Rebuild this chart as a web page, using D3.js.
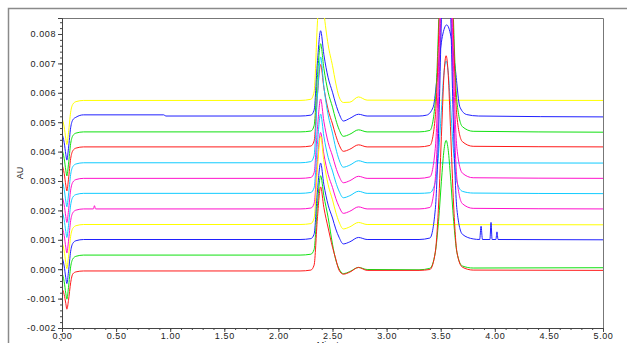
<!DOCTYPE html>
<html>
<head>
<meta charset="utf-8">
<script src="https://cdn.jsdelivr.net/npm/d3@7"></script>
<style>
  body { margin: 0; background: #fff; }
  text { font-family: "Liberation Sans", Arial, sans-serif; }
</style>
</head>
<body>
<svg width="627" height="343"></svg>
<script>
// tick labels
var xTicks = [0, 0.5, 1, 1.5, 2, 2.5, 3, 3.5, 4, 4.5, 5];
var yTicks = [-0.002, -0.001, 0, 0.001, 0.002, 0.003, 0.004, 0.005, 0.006, 0.007, 0.008];

// traces, [minutes, AU] (top trace first)
var yellow1 = [[0,0.00514],[0.02,0.00484],[0.035,0.00444],[0.045,0.00424],[0.06,0.00464],[0.08,0.00534],[0.10,0.00561],[0.13,0.00570],[0.20,0.00574],
  [2.20,0.00574],[2.30,0.00578],[2.33,0.00603],[2.36,0.00834],[2.39,0.00994],[2.42,0.00876],[2.46,0.00763],[2.50,0.00692],[2.53,0.00633],[2.56,0.00587],
  [2.60,0.00567],[2.66,0.00568],[2.74,0.00586],[2.82,0.00575],[5.00,0.00574]];
var blue1 = [[0,0.00461],[0.02,0.00431],[0.035,0.00391],[0.045,0.00371],[0.06,0.00411],[0.08,0.00481],[0.10,0.00508],[0.13,0.00517],[0.20,0.00525],
  [0.94,0.00525],[0.96,0.00521],[2.20,0.00521],[2.30,0.00524],[2.33,0.00541],[2.36,0.00701],[2.39,0.00811],[2.42,0.00730],[2.46,0.00651],[2.50,0.00602],
  [2.53,0.00562],[2.56,0.00530],[2.60,0.00504],[2.66,0.00513],[2.74,0.00527],[2.82,0.00521],
  [3.30,0.00521],[3.37,0.00524],[3.43,0.00551],[3.478,0.00691],[3.515,0.00791],[3.555,0.00831],[3.595,0.00791],[3.632,0.00691],[3.678,0.00551],
  [3.74,0.00526],[3.85,0.00521],[5.00,0.00518]];
var green1 = [[0,0.00407],[0.02,0.00377],[0.035,0.00337],[0.045,0.00317],[0.06,0.00357],[0.08,0.00427],[0.10,0.00454],[0.13,0.00463],[0.20,0.00467],
  [2.20,0.00467],[2.30,0.00470],[2.33,0.00488],[2.36,0.00653],[2.39,0.00767],[2.42,0.00683],[2.46,0.00602],[2.50,0.00551],[2.53,0.00509],[2.56,0.00476],
  [2.60,0.00452],[2.66,0.00459],[2.74,0.00474],[2.82,0.00467],
  [3.30,0.00467],[3.40,0.00472],[3.45,0.00569],[3.48,0.00827],[3.51,0.01271],[3.53,0.01559],[3.55,0.01667],[3.57,0.01559],[3.59,0.01271],[3.62,0.00827],
  [3.65,0.00569],[3.70,0.00485],[3.80,0.00469],[5.00,0.00466]];
var red1 = [[0,0.00356],[0.02,0.00326],[0.035,0.00286],[0.045,0.00266],[0.06,0.00306],[0.08,0.00376],[0.10,0.00403],[0.13,0.00412],[0.20,0.00416],
  [2.20,0.00416],[2.30,0.00419],[2.33,0.00436],[2.36,0.00590],[2.39,0.00696],[2.42,0.00618],[2.46,0.00542],[2.50,0.00494],[2.53,0.00455],[2.56,0.00424],
  [2.60,0.00401],[2.66,0.00408],[2.74,0.00423],[2.82,0.00416],
  [3.30,0.00416],[3.40,0.00421],[3.45,0.00518],[3.48,0.00776],[3.51,0.01220],[3.53,0.01508],[3.55,0.01616],[3.57,0.01508],[3.59,0.01220],[3.62,0.00776],
  [3.65,0.00518],[3.70,0.00434],[3.80,0.00418],[5.00,0.00416]];
var cyan1 = [[0,0.00302],[0.02,0.00272],[0.035,0.00232],[0.045,0.00212],[0.06,0.00252],[0.08,0.00322],[0.10,0.00349],[0.13,0.00358],[0.20,0.00362],
  [2.20,0.00362],[2.30,0.00366],[2.33,0.00387],[2.36,0.00585],[2.39,0.00722],[2.42,0.00621],[2.46,0.00524],[2.50,0.00463],[2.53,0.00412],[2.56,0.00373],
  [2.60,0.00347],[2.66,0.00354],[2.74,0.00369],[2.82,0.00362],[5.00,0.00361]];
var magenta1 = [[0,0.00249],[0.02,0.00219],[0.035,0.00179],[0.045,0.00159],[0.06,0.00199],[0.08,0.00269],[0.10,0.00296],[0.13,0.00305],[0.20,0.00309],
  [2.20,0.00309],[2.30,0.00312],[2.33,0.00328],[2.36,0.00476],[2.39,0.00579],[2.42,0.00503],[2.46,0.00431],[2.50,0.00385],[2.53,0.00347],[2.56,0.00317],
  [2.60,0.00294],[2.66,0.00301],[2.74,0.00316],[2.82,0.00309],
  [3.30,0.00309],[3.40,0.00314],[3.45,0.00411],[3.48,0.00669],[3.51,0.01113],[3.53,0.01401],[3.55,0.01509],[3.57,0.01401],[3.59,0.01113],[3.62,0.00669],
  [3.65,0.00411],[3.70,0.00327],[3.80,0.00311],[5.00,0.00309]];
var cyan2 = [[0,0.00198],[0.02,0.00168],[0.035,0.00128],[0.045,0.00108],[0.06,0.00148],[0.08,0.00218],[0.10,0.00245],[0.13,0.00254],[0.20,0.00258],
  [2.20,0.00258],[2.30,0.00261],[2.33,0.00277],[2.36,0.00425],[2.39,0.00528],[2.42,0.00452],[2.46,0.00380],[2.50,0.00334],[2.53,0.00296],[2.56,0.00266],
  [2.60,0.00243],[2.66,0.00250],[2.74,0.00265],[2.82,0.00258],
  [3.30,0.00258],[3.40,0.00260],[3.45,0.00296],[3.48,0.00393],[3.51,0.00560],[3.53,0.00668],[3.55,0.00708],[3.57,0.00668],[3.59,0.00560],[3.62,0.00393],
  [3.65,0.00296],[3.70,0.00265],[3.80,0.00259],[5.00,0.00257]];
var magenta2 = [[0,0.00145],[0.02,0.00115],[0.035,0.00075],[0.045,0.00055],[0.06,0.00095],[0.08,0.00165],[0.10,0.00192],[0.13,0.00201],[0.20,0.00205],
  [0.29,0.00205],[0.30,0.00216],[0.31,0.00205],
  [2.20,0.00205],[2.30,0.00208],[2.33,0.00223],[2.36,0.00366],[2.39,0.00465],[2.42,0.00392],[2.46,0.00322],[2.50,0.00278],[2.53,0.00241],[2.56,0.00213],
  [2.60,0.00190],[2.66,0.00197],[2.74,0.00212],[2.82,0.00205],
  [3.30,0.00205],[3.40,0.00210],[3.45,0.00307],[3.48,0.00565],[3.51,0.01009],[3.53,0.01297],[3.55,0.01405],[3.57,0.01297],[3.59,0.01009],[3.62,0.00565],
  [3.65,0.00307],[3.70,0.00223],[3.80,0.00207],[5.00,0.00205]];
var yellow2 = [[0,0.00092],[0.02,0.00062],[0.035,0.00022],[0.045,0.00002],[0.06,0.00042],[0.08,0.00112],[0.10,0.00139],[0.13,0.00148],[0.20,0.00152],
  [2.20,0.00152],[2.30,0.00155],[2.33,0.00173],[2.36,0.00338],[2.39,0.00452],[2.42,0.00368],[2.46,0.00287],[2.50,0.00236],[2.53,0.00194],[2.56,0.00161],
  [2.60,0.00137],[2.66,0.00144],[2.74,0.00159],[2.82,0.00152],[5.00,0.00151]];
var blue2 = [[0,0.00041],[0.02,0.00011],[0.035,-0.00029],[0.045,-0.00049],[0.06,-0.00009],[0.08,0.00061],[0.10,0.00088],[0.13,0.00097],[0.20,0.00101],
  [2.20,0.00101],[2.30,0.00104],[2.33,0.00119],[2.36,0.00262],[2.39,0.00361],[2.42,0.00288],[2.46,0.00218],[2.50,0.00174],[2.53,0.00137],[2.56,0.00109],
  [2.60,0.00086],[2.66,0.00093],[2.74,0.00108],[2.82,0.00101],
  [3.30,0.00101],[3.40,0.00106],[3.45,0.00203],[3.48,0.00461],[3.51,0.00905],[3.53,0.01193],[3.55,0.01301],[3.57,0.01193],[3.59,0.00905],[3.62,0.00461],
  [3.65,0.00203],[3.70,0.00119],[3.80,0.00103],
  [3.86,0.00101],[3.873,0.00146],[3.886,0.00101],[3.955,0.00101],[3.965,0.00159],[3.975,0.00101],[4.01,0.00101],[4.02,0.00127],[4.03,0.00101],[5.00,0.00100]];
var green2 = [[0,-0.00012],[0.02,-0.00042],[0.035,-0.00082],[0.045,-0.00102],[0.06,-0.00062],[0.08,0.00008],[0.10,0.00035],[0.13,0.00044],[0.20,0.00048],
  [2.20,0.00048],[2.30,0.00051],[2.33,0.00067],[2.36,0.00215],[2.39,0.00318],[2.42,0.00250],[2.46,0.00175],[2.50,0.00085],[2.53,0.00032],[2.56,0.00002],
  [2.60,-0.00015],[2.66,-0.00008],[2.74,0.00006],[2.82,-0.00001],
  [3.30,-0.00002],[3.40,0.00003],[3.45,0.00057],[3.48,0.00163],[3.51,0.00317],[3.53,0.00404],[3.55,0.00438],[3.57,0.00404],[3.59,0.00317],[3.62,0.00163],
  [3.65,0.00057],[3.70,0.00011],[3.80,0.00004],[5.00,0.00005]];
var red2 = [[0,-0.00066],[0.02,-0.00086],[0.035,-0.00116],[0.045,-0.00136],[0.06,-0.00106],[0.08,-0.00046],[0.10,-0.00016],[0.13,-0.00009],[0.20,-0.00006],
  [2.20,-0.00006],[2.30,-0.00003],[2.33,0.00014],[2.36,0.00171],[2.39,0.00280],[2.42,0.00210],[2.46,0.00140],[2.50,0.00075],[2.53,0.00035],[2.56,-0.00003],
  [2.60,-0.00017],[2.66,-0.00010],[2.74,0.00006],[2.82,-0.00004],
  [3.30,-0.00004],[3.40,-0.00001],[3.45,0.00058],[3.48,0.00215],[3.51,0.00485],[3.53,0.00660],[3.55,0.00726],[3.57,0.00660],[3.59,0.00485],[3.62,0.00215],
  [3.65,0.00058],[3.70,0.00007],[3.80,-0.00003],[5.00,-0.00004]];

var traces = [yellow1, blue1, green1, red1, cyan1, magenta1, cyan2, magenta2, yellow2, blue2, green2, red2];
var colors = ["#ffff00", "#2020ff", "#10e010", "#ff1a1a", "#10ccff", "#ff10cc",
              "#10ccff", "#ff10cc", "#ffff00", "#2020ff", "#10e010", "#ff1a1a"];

var svg = d3.select("svg"),
    margin = {top: 18, right: 24, bottom: 15, left: 62},
    width = 627 - margin.left - margin.right,
    height = 343 - margin.top - margin.bottom;

// outer frame
svg.append("path")
    .attr("d", "M8.5,343V8.5H627")
    .attr("fill", "none")
    .attr("stroke", "#8a8a8a")
    .attr("stroke-width", 1.5);

var g = svg.append("g").attr("transform", "translate(" + margin.left + "," + margin.top + ")");

var x = d3.scaleLinear().domain([0, 5]).range([0, width]),
    y = d3.scaleLinear().domain([-0.002, 0.008544]).range([height, 0]);

g.append("clipPath").attr("id", "clip")
  .append("rect").attr("width", width).attr("height", height);

var line = d3.line()
    .curve(d3.curveMonotoneX)
    .x(function(d) { return x(d[0]); })
    .y(function(d) { return y(d[1]); });

// plot frame top / right
g.append("path")
    .attr("d", "M0,0.5H" + (width + 0.5) + "V" + height)
    .attr("fill", "none")
    .attr("stroke", "#777");

g.append("g")
    .attr("clip-path", "url(#clip)")
  .selectAll("path")
  .data(traces)
  .enter().append("path")
    .attr("d", line)
    .attr("fill", "none")
    .attr("stroke-width", 1)
    .attr("stroke", function(d, i) { return colors[i]; });

function fmt(d) { return d.toFixed(3); }
function fmt2(d) { return d.toFixed(2); }

// minor ticks
g.append("g")
    .attr("class", "minor")
    .call(d3.axisLeft(y).tickValues(d3.range(-20, 43).map(function(k) { return k * 0.0002; })).tickSize(2).tickFormat(""));
g.append("g")
    .attr("class", "minor")
    .attr("transform", "translate(0," + height + ")")
    .call(d3.axisBottom(x).tickValues(d3.range(0, 51).map(function(k) { return k / 10; })).tickSize(2).tickFormat(""));
g.selectAll(".minor .domain").remove();

g.append("g")
    .attr("class", "axis")
    .call(d3.axisLeft(y).tickValues(yTicks).tickSize(4).tickPadding(2).tickFormat(fmt));
g.append("g")
    .attr("class", "axis")
    .attr("transform", "translate(0," + height + ")")
    .call(d3.axisBottom(x).tickValues(xTicks).tickSize(4).tickPadding(1).tickFormat(fmt2));

g.selectAll(".axis text")
    .style("font-size", "9px")
    .style("letter-spacing", "0.6px")
    .attr("fill", "#222");
g.selectAll(".axis path, .axis line, .minor line").attr("stroke", "#444");

svg.append("text")
    .attr("transform", "translate(23," + (margin.top + height / 2) + ") rotate(-90)")
    .attr("text-anchor", "middle")
    .style("font-size", "9px")
    .attr("fill", "#222")
    .text("AU");

svg.append("text")
    .attr("x", margin.left + width / 2)
    .attr("y", 348)
    .attr("text-anchor", "middle")
    .style("font-size", "9px")
    .attr("fill", "#222")
    .text("Minutes");
</script>
</body>
</html>
